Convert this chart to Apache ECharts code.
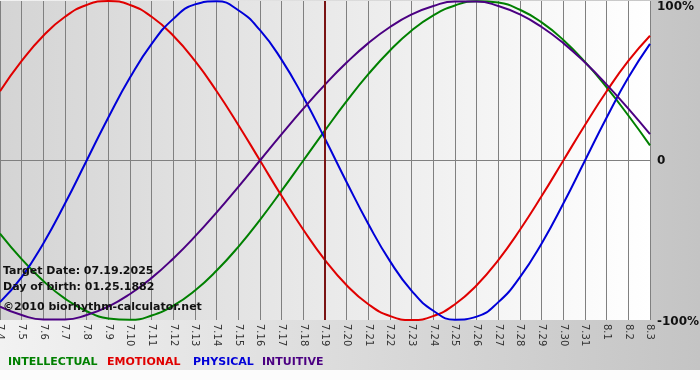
<!DOCTYPE html>
<html>
<head>
<meta charset="utf-8">
<script src="https://cdn.jsdelivr.net/npm/echarts@6/dist/echarts.min.js"></script>
<style>html,body{margin:0;padding:0;background:#fff;}#c{width:700px;height:380px;}</style>
</head>
<body>
<div id="c"></div>
<script>
var days = ['7.4','7.5','7.6','7.7','7.8','7.9','7.10','7.11','7.12','7.13','7.14','7.15','7.16','7.17','7.18','7.19','7.20','7.21','7.22','7.23','7.24','7.25','7.26','7.27','7.28','7.29','7.30','7.31','8.1','8.2','8.3'];
var intellectual = [-45.8,-61.8,-75.6,-86.6,-94.5,-99.0,-99.9,-97.2,-91.0,-81.5,-69.0,-54.1,-37.2,-18.9,0,18.9,37.2,54.1,69.0,81.5,91.0,97.2,99.9,99.0,94.5,86.6,75.6,61.8,45.8,28.2,9.5];
var emotional = [43.4,62.4,78.2,90.1,97.5,100,97.5,90.1,78.2,62.4,43.4,22.3,0,-22.3,-43.4,-62.4,-78.2,-90.1,-97.5,-100,-97.5,-90.1,-78.2,-62.4,-43.4,-22.3,0,22.3,43.4,62.4,78.2];
var physical = [-88.8,-73.1,-52.0,-27.0,0,27.0,52.0,73.1,88.8,97.9,99.8,94.2,81.7,63.1,39.8,13.6,-13.6,-39.8,-63.1,-81.7,-94.2,-99.8,-97.9,-88.8,-73.1,-52.0,-27.0,0,27.0,52.0,73.1];
var intuitive = [-91.6,-96.9,-99.7,-99.7,-96.9,-91.6,-83.7,-73.6,-61.4,-47.6,-32.5,-16.5,0,16.5,32.5,47.6,61.4,73.6,83.7,91.6,96.9,99.7,99.7,96.9,91.6,83.7,73.6,61.4,47.6,32.5,16.5];
var yTicks = ['-100%','0','100%'];
var targetDay = '7.19';
var infoLines = ['Target Date: 07.19.2025','Day of birth: 01.25.1882','\u00a92010 biorhythm-calculator.net'];
var legendNames = ['INTELLECTUAL','EMOTIONAL','PHYSICAL','INTUITIVE'];

var colors = {INTELLECTUAL:'#008000', EMOTIONAL:'#e00000', PHYSICAL:'#0000d8', INTUITIVE:'#4b0082'};
var FONT = '"DejaVu Sans", Verdana, sans-serif';

var chart = echarts.init(document.getElementById('c'), null, {renderer:'canvas'});

function line(name, data, extra) {
  var s = {
    name: name, type: 'line', data: data, smooth: 0.5, symbol: 'none',
    lineStyle: {color: colors[name], width: 2}, itemStyle: {color: colors[name]},
    silent: true, animation: false, z: 3
  };
  if (extra) for (var k in extra) s[k] = extra[k];
  return s;
}

var graphics = [
  {type:'rect', shape:{x:0,y:370,width:700,height:10}, style:{fill:'#fcfcfc'}, silent:true, z:-10}
];
var infoY = [271, 287, 307];
infoLines.forEach(function(t, i){
  graphics.push({type:'text', x:3, y:infoY[i], z:100, silent:true,
    style:{text:t, fill:'#111', font:'bold 11px ' + FONT, verticalAlign:'middle', align:'left'}});
});
var legX = [8, 107, 193, 262];
legendNames.forEach(function(n, i){
  graphics.push({type:'text', x:legX[i], y:362, z:100, silent:true,
    style:{text:n, fill:colors[n], font:'bold 11px ' + FONT, verticalAlign:'middle', align:'left'}});
});

chart.setOption({
  animation: false,
  backgroundColor: new echarts.graphic.LinearGradient(0,0,1,0,[{offset:0,color:'#f2f2f2'},{offset:1,color:'#c4c4c4'}]),
  grid: {left:0, right:50, top:1, bottom:60, show:true, borderWidth:0, containLabel:false, outerBoundsMode:'none',
    backgroundColor: new echarts.graphic.LinearGradient(0,0,1,0,[{offset:0,color:'#d4d4d4'},{offset:1,color:'#ffffff'}])},
  xAxis: {
    type:'category', data: days, boundaryGap:false,
    axisLine:{show:true, lineStyle:{color:'#808080', width:1}},
    axisTick:{show:true, length:3, interval:0, lineStyle:{color:'#808080'}},
    splitLine:{show:true, interval:0, lineStyle:{color:'#808080', width:1}},
    axisLabel:{interval:0, rotate:-90, margin:4, fontSize:10, color:'#333', fontFamily:FONT, hideOverlap:false}
  },
  yAxis: {
    type:'value', position:'right', min:-100, max:100, interval:100,
    axisLine:{show:false}, axisTick:{show:false},
    splitLine:{show:true, lineStyle:{color:['rgba(0,0,0,0)','#808080','rgba(0,0,0,0)'], width:1}},
    axisLabel:{
      margin:7, align:'left', color:'#111', fontSize:12, fontWeight:'bold', fontFamily:FONT,
      formatter:function(v){
        if (v === 100) return '{t|' + yTicks[2] + '}';
        if (v === -100) return '{b|' + yTicks[0] + '}';
        return '{z|' + yTicks[1] + '}';
      },
      rich:{
        t:{padding:[12,0,0,0], fontSize:12, fontWeight:'bold', color:'#111', fontFamily:FONT},
        b:{padding:[4,0,0,0], fontSize:12, fontWeight:'bold', color:'#111', fontFamily:FONT},
        z:{fontSize:12, fontWeight:'bold', color:'#111', fontFamily:FONT}
      }
    }
  },
  series: [
    line('INTELLECTUAL', intellectual, {markLine:{silent:true, symbol:'none', animation:false, label:{show:false},
      lineStyle:{color:'#7a1414', width:2, type:'solid'}, data:[{xAxis: targetDay}]}}),
    line('EMOTIONAL', emotional),
    line('PHYSICAL', physical),
    line('INTUITIVE', intuitive)
  ],
  graphic: graphics
});
</script>
</body>
</html>
